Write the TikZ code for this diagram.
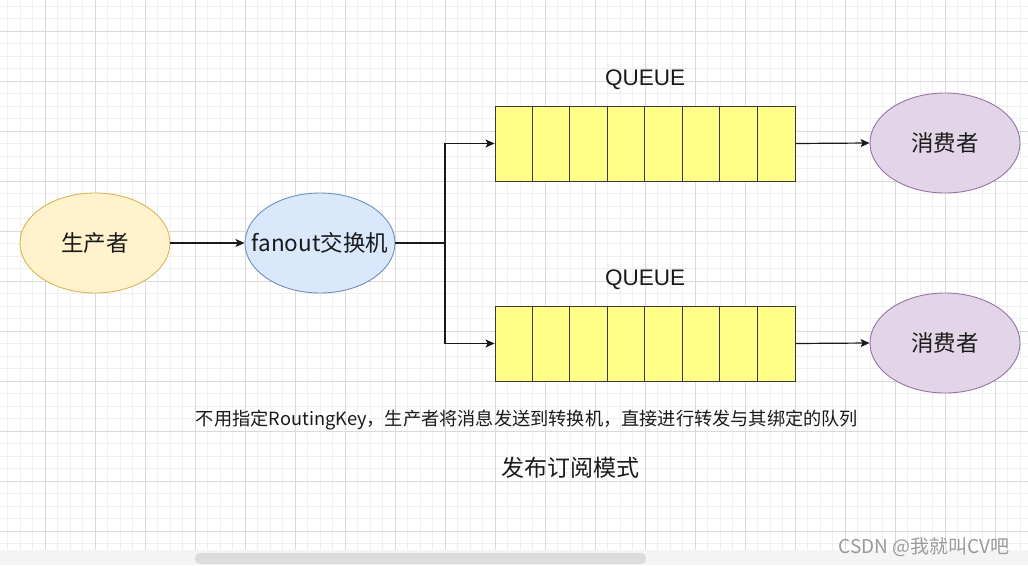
\documentclass[tikz,border=0pt]{standalone}
\usepackage{fontspec}
\setmainfont{Noto Sans CJK SC}
\newfontfamily\arial{Liberation Sans}
\usetikzlibrary{shapes.geometric,arrows.meta,calc}
\definecolor{prodfill}{HTML}{FFF2CC}
\definecolor{proddraw}{HTML}{D6B656}
\definecolor{exfill}{HTML}{DAE8FC}
\definecolor{exdraw}{HTML}{6C8EBF}
\definecolor{consfill}{HTML}{E1D5E7}
\definecolor{consdraw}{HTML}{9673A6}
\definecolor{qfill}{HTML}{FFFF88}
\definecolor{qdraw}{HTML}{36393D}
\definecolor{gridminor}{HTML}{EFEFEF}
\definecolor{gridmajor}{HTML}{D9D9D9}
\definecolor{band}{HTML}{F4F4F4}
\definecolor{thumb}{HTML}{DCDCDC}
\definecolor{wm}{HTML}{9A9A9A}
\definecolor{ink}{HTML}{1A1A1A}
\tikzset{
  ell/.style={ellipse, minimum width=150pt, minimum height=100pt, inner sep=0pt, line width=0.9pt, font=\fontsize{22.5}{26}\selectfont, text=ink},
  prod/.style={ell, fill=prodfill, draw=proddraw},
  exch/.style={ell, fill=exfill, draw=exdraw, inner xsep=-20pt},
  cons/.style={ell, fill=consfill, draw=consdraw},
  queuebox/.style={rectangle, minimum width=300pt, minimum height=75pt, inner sep=0pt, fill=qfill, draw=qdraw, line width=0.9pt},
  qlabel/.style={font=\arial\fontsize{22.5}{26}\selectfont, text=ink},
  conn/.style={line width=1.2pt, draw=ink},
  arr/.style={conn, -{Stealth[length=9pt,width=8pt,inset=2pt]}},
  gminor/.style={draw=gridminor, line width=0.7pt},
  gmajor/.style={draw=gridmajor, line width=0.8pt},
}
\begin{document}
\begin{tikzpicture}[x=1pt,y=-1pt]
\useasboundingbox (0,0) rectangle (1028,565);
\fill[white] (0,0) rectangle (1028,565);
% grid
\foreach \i in {0,...,82} { \draw[gminor] ({-5+12.5*\i},0) -- ({-5+12.5*\i},550); }
\foreach \i in {0,...,43} { \draw[gminor] (0,{6+12.5*\i}) -- (1028,{6+12.5*\i}); }
\foreach \x in {45,95,...,995} { \draw[gmajor] (\x,0) -- (\x,550); }
\foreach \y in {31,81,...,531} { \draw[gmajor] (0,\y) -- (1028,\y); }
% bottom band and scrollbar
\fill[band] (0,550) rectangle (1028,565);
\fill[thumb, rounded corners=5pt] (195,553) rectangle (646,564);
% nodes
\node[prod] (prod) at (95,243) {生产者};
\node[exch] (ex) at (320,243) {fanout交换机};
\node[queuebox] (q1) at (645,143.5) {};
\node[queuebox] (q2) at (645,343.5) {};
\foreach \q in {q1,q2} {
  \foreach \k in {1,...,7} {
    \draw[draw=qdraw, line width=0.9pt] ($(\q.north west)+(37.5*\k,0)$) -- ($(\q.south west)+(37.5*\k,0)$);
  }
}
\node[qlabel] (l1) at (645,80) {QUEUE};
\node[qlabel] (l2) at (645,280) {QUEUE};
\node[cons] (c1) at (945,143) {消费者};
\node[cons] (c2) at (945,343) {消费者};
\coordinate (split) at (445,243);
% connectors
\draw[arr] (prod.east) -- (ex.west);
\draw[conn] (ex.east) -- (split);
\draw[arr] (split) |- (q1.west);
\draw[arr] (split) |- (q2.west);
\draw[arr] (q1.east) -- (c1.west);
\draw[arr] (q2.east) -- (c2.west);
% texts
\node[font=\fontsize{18.2}{21}\selectfont, text=ink] (desc) at (527,420) {不用指定RoutingKey，生产者将消息发送到转换机，直接进行转发与其绑定的队列};
\node[font=\fontsize{23}{26}\selectfont, text=ink] (title) at (570.5,468) {发布订阅模式};
\node[font=\fontsize{19}{22}\selectfont, text=wm, anchor=east] (wmk) at (1013,547) {CSDN @我就叫CV吧};
\end{tikzpicture}
\end{document}
